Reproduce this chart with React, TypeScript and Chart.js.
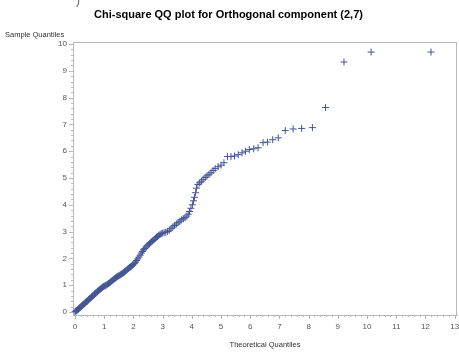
import { useEffect, useRef } from "react";
import { Chart, registerables } from "chart.js";

Chart.register(...registerables);

const chartTitle = "Chi-square QQ plot for Orthogonal component (2,7)";
const xAxisTitle = "Theoretical Quantiles";
const yAxisTitle = "Sample Quantiles";

const xTickValues = [0, 1, 2, 3, 4, 5, 6, 7, 8, 9, 10, 11, 12, 13];
const yTickValues = [0, 1, 2, 3, 4, 5, 6, 7, 8, 9, 10];

// Chi-square theoretical quantiles (x) against ordered sample quantiles (y)
const theoreticalQuantiles = [
  0.0, 0.02, 0.05, 0.07, 0.1, 0.12, 0.15, 0.17, 0.2, 0.22, 0.25, 0.27, 0.3, 0.32, 0.35, 0.37,
  0.4, 0.42, 0.45, 0.47, 0.5, 0.52, 0.55, 0.57, 0.6, 0.62, 0.65, 0.67, 0.7, 0.72, 0.75, 0.77,
  0.8, 0.82, 0.85, 0.87, 0.9, 0.92, 0.95, 0.97, 1.0,
  1.03, 1.06, 1.09, 1.12, 1.15, 1.18, 1.21, 1.24, 1.27, 1.3, 1.33, 1.36, 1.39, 1.42, 1.45, 1.48,
  1.51, 1.54, 1.57, 1.6, 1.63, 1.66, 1.69, 1.72, 1.75, 1.78, 1.81, 1.84, 1.87, 1.9, 1.93, 1.96, 1.99,
  2.03, 2.07, 2.11, 2.15, 2.19, 2.23, 2.27, 2.31, 2.35, 2.39, 2.43, 2.47, 2.51, 2.55, 2.59, 2.63,
  2.67, 2.71, 2.75, 2.79, 2.83, 2.87, 2.91, 2.95, 2.99,
  3.05, 3.11, 3.17, 3.23, 3.29, 3.35, 3.41, 3.47, 3.53, 3.59, 3.65, 3.71, 3.77, 3.83, 3.88,
  3.92, 3.97, 4.02, 4.06, 4.09, 4.13, 4.16, 4.21, 4.27, 4.33, 4.39, 4.46, 4.52, 4.59, 4.66, 4.73,
  4.8, 4.9, 5.0, 5.1, 5.22, 5.34, 5.46, 5.59, 5.72, 5.84, 5.97, 6.12, 6.27, 6.44, 6.59, 6.77,
  6.96, 7.2, 7.47, 7.76, 8.13, 8.58, 9.21, 10.14, 12.19,
];

const sampleQuantiles = [
  0.0, 0.03, 0.05, 0.06, 0.09, 0.12, 0.14, 0.17, 0.19, 0.22, 0.24, 0.26, 0.29, 0.31, 0.34, 0.37,
  0.39, 0.41, 0.44, 0.47, 0.49, 0.51, 0.54, 0.57, 0.59, 0.61, 0.64, 0.67, 0.69, 0.71, 0.74, 0.77,
  0.79, 0.81, 0.84, 0.86, 0.88, 0.9, 0.93, 0.95, 0.96,
  0.98, 1.0, 1.01, 1.04, 1.06, 1.09, 1.11, 1.14, 1.17, 1.19, 1.22, 1.25, 1.27, 1.3, 1.32, 1.34,
  1.36, 1.38, 1.4, 1.42, 1.44, 1.47, 1.49, 1.52, 1.55, 1.58, 1.61, 1.63, 1.66, 1.68, 1.71, 1.74, 1.77,
  1.81, 1.86, 1.92, 1.98, 2.05, 2.12, 2.2, 2.26, 2.32, 2.37, 2.42, 2.47, 2.51, 2.55, 2.59, 2.63,
  2.67, 2.71, 2.75, 2.79, 2.82, 2.86, 2.89, 2.92, 2.94,
  2.96, 2.98, 3.01, 3.05, 3.11, 3.17, 3.23, 3.28, 3.33, 3.39, 3.44, 3.48, 3.52, 3.58, 3.65,
  3.75, 3.87, 4.0, 4.15, 4.28, 4.45, 4.62, 4.76, 4.82, 4.88, 4.95, 5.02, 5.08, 5.14, 5.2, 5.28,
  5.35, 5.42, 5.48, 5.57, 5.8, 5.8, 5.82, 5.87, 5.94, 6.0, 6.06, 6.09, 6.13, 6.32, 6.34, 6.43,
  6.5, 6.77, 6.83, 6.85, 6.88, 7.63, 9.33, 9.7, 9.7,
];

const FONT_FAMILY = '"Liberation Sans", Arial, Helvetica, sans-serif';
const MARKER_COLOR = "#445694";
const FRAME_COLOR = "#b8b8b8";
const TICK_TEXT_COLOR = "#555555";

// Frame (top/right edges), major/minor tick marks and the horizontal y-axis caption
const frameAndTicks = {
  id: "frameAndTicks",
  afterDraw(chart: any) {
    const { ctx, chartArea, scales } = chart;
    const { left, right, top, bottom } = chartArea;
    const xs = scales.x;
    const ys = scales.y;
    ctx.save();
    ctx.strokeStyle = FRAME_COLOR;
    ctx.lineWidth = 1;
    ctx.beginPath();
    ctx.moveTo(left, Math.round(top) + 0.5);
    ctx.lineTo(right, Math.round(top) + 0.5);
    ctx.moveTo(Math.round(right) - 0.5, top);
    ctx.lineTo(Math.round(right) - 0.5, bottom);
    ctx.stroke();

    const lastX = xTickValues[xTickValues.length - 1];
    ctx.beginPath();
    for (let i = 0; i <= lastX * 5; i++) {
      const px = Math.round(xs.getPixelForValue(i / 5)) + 0.5;
      const len = i % 5 === 0 ? 4 : 2;
      ctx.moveTo(px, bottom);
      ctx.lineTo(px, bottom + len);
    }
    const lastY = yTickValues[yTickValues.length - 1];
    for (let i = 0; i <= lastY * 5; i++) {
      const py = Math.round(ys.getPixelForValue(i / 5)) + 0.5;
      const len = i % 5 === 0 ? 4 : 2;
      ctx.moveTo(left, py);
      ctx.lineTo(left - len, py);
    }
    ctx.stroke();

    ctx.fillStyle = "#333333";
    ctx.font = `7.5px ${FONT_FAMILY}`;
    ctx.textAlign = "left";
    ctx.textBaseline = "middle";
    ctx.fillText(yAxisTitle, 5, 35);

    ctx.fillStyle = "#666666";
    ctx.font = `12px ${FONT_FAMILY}`;
    ctx.textBaseline = "alphabetic";
    ctx.fillText(")", 76, 4);
    ctx.restore();
  },
};

export default function App() {
  const canvasRef = useRef<HTMLCanvasElement | null>(null);

  useEffect(() => {
    const canvas = canvasRef.current;
    if (!canvas) return;
    const points = theoreticalQuantiles.map((x, i) => ({ x, y: sampleQuantiles[i] }));

    const chart = new Chart(canvas, {
      type: "scatter",
      data: {
        datasets: [
          {
            data: points,
            pointStyle: "cross",
            pointRadius: 3.5,
            pointHoverRadius: 3.5,
            borderWidth: 1,
            borderColor: MARKER_COLOR,
            backgroundColor: MARKER_COLOR,
            clip: false,
          } as any,
        ],
      },
      options: {
        responsive: false,
        animation: false,
        devicePixelRatio: 1,
        layout: { padding: { top: 0, left: 0, right: 10, bottom: 0 } },
        plugins: {
          legend: { display: false },
          tooltip: { enabled: false },
          title: {
            display: true,
            text: chartTitle,
            color: "#000000",
            font: { family: FONT_FAMILY, size: 11, weight: "bold" },
            padding: { top: 8.4, bottom: 20.4 },
          },
        },
        scales: {
          x: {
            type: "linear",
            min: -0.068,
            max: 13.08,
            afterFit: (scale: any) => {
              scale.height = 39;
            },
            afterBuildTicks: (scale: any) => {
              scale.ticks = xTickValues.map((v) => ({ value: v }));
            },
            grid: { display: false, drawTicks: false },
            border: { display: true, color: FRAME_COLOR, width: 1 },
            ticks: {
              autoSkip: false,
              maxRotation: 0,
              padding: 7,
              color: TICK_TEXT_COLOR,
              font: { family: FONT_FAMILY, size: 8 },
              callback: (v: any) => String(v),
            },
            title: {
              display: true,
              text: xAxisTitle,
              color: "#333333",
              font: { family: FONT_FAMILY, size: 7.5 },
              padding: { top: 0, bottom: 4.5 },
            },
          },
          y: {
            type: "linear",
            min: -0.112,
            max: 10.075,
            afterFit: (scale: any) => {
              scale.width = 73;
            },
            afterBuildTicks: (scale: any) => {
              scale.ticks = yTickValues.map((v) => ({ value: v }));
            },
            grid: { display: false, drawTicks: false },
            border: { display: true, color: FRAME_COLOR, width: 1 },
            ticks: {
              autoSkip: false,
              padding: 6,
              color: TICK_TEXT_COLOR,
              font: { family: FONT_FAMILY, size: 8 },
              callback: (v: any) => String(v),
            },
          },
        },
      },
      plugins: [frameAndTicks],
    });

    return () => chart.destroy();
  }, []);

  return (
    <div
      style={{
        position: "absolute",
        left: 0,
        top: 0,
        width: 459,
        height: 354,
        overflow: "hidden",
        background: "#ffffff",
      }}
    >
      <canvas ref={canvasRef} width={467} height={354} style={{ display: "block" }} />
    </div>
  );
}
